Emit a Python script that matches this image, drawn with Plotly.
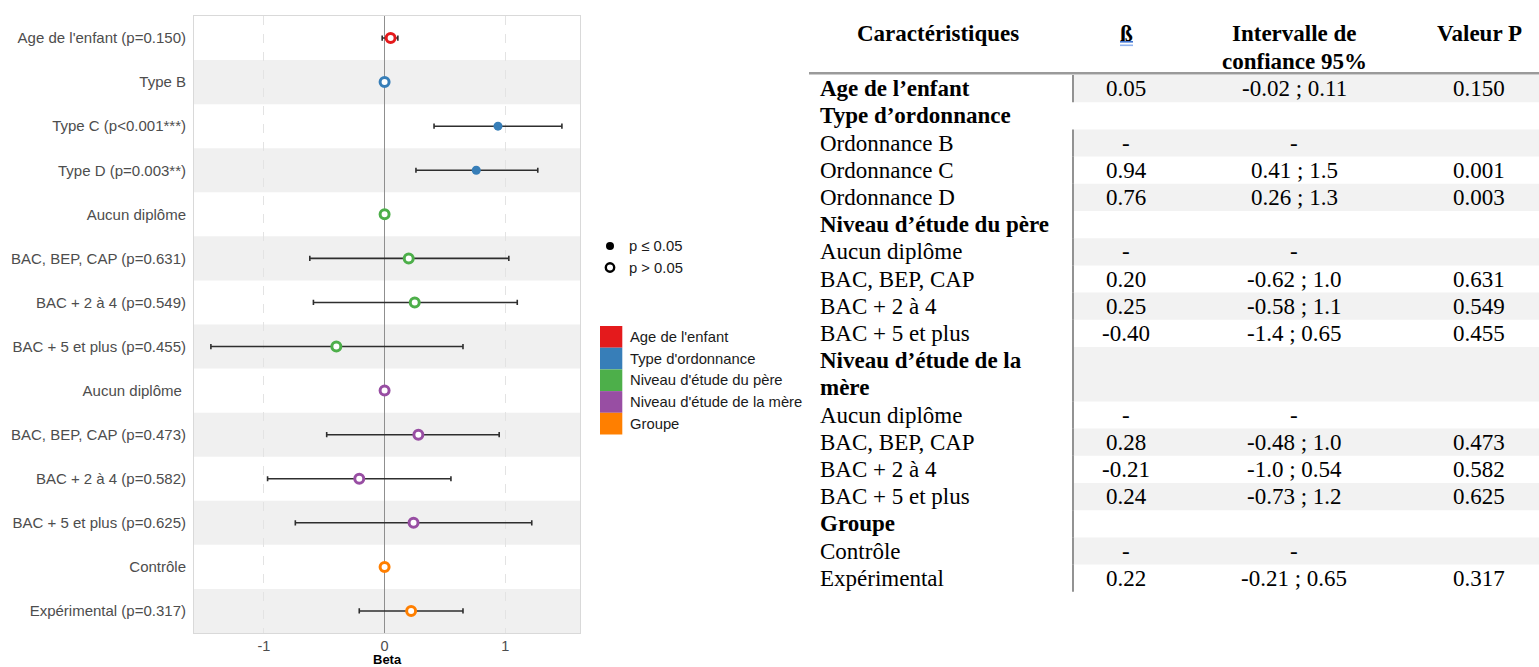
import plotly.graph_objects as go

# ---------------- data: forest plot ----------------
row_labels = ["Age de l'enfant (p=0.150)", "Type B", "Type C (p<0.001***)", "Type D (p=0.003**)",
              "Aucun diplôme", "BAC, BEP, CAP (p=0.631)", "BAC + 2 à 4 (p=0.549)", "BAC + 5 et plus (p=0.455)",
              "Aucun diplôme\u00a0", "BAC, BEP, CAP (p=0.473)", "BAC + 2 à 4 (p=0.582)", "BAC + 5 et plus (p=0.625)",
              "Contrôle", "Expérimental (p=0.317)"]
row_groups = ["Age de l'enfant", "Type d'ordonnance", "Type d'ordonnance", "Type d'ordonnance",
              "Niveau d'étude du père", "Niveau d'étude du père", "Niveau d'étude du père", "Niveau d'étude du père",
              "Niveau d'étude de la mère", "Niveau d'étude de la mère", "Niveau d'étude de la mère", "Niveau d'étude de la mère",
              "Groupe", "Groupe"]
beta = [0.05, 0.0, 0.94, 0.76, 0.0, 0.20, 0.25, -0.40, 0.0, 0.28, -0.21, 0.24, 0.0, 0.22]
ci_low = [-0.02, None, 0.41, 0.26, None, -0.62, -0.59, -1.44, None, -0.48, -0.97, -0.74, None, -0.21]
ci_high = [0.11, None, 1.47, 1.27, None, 1.03, 1.10, 0.65, None, 0.95, 0.55, 1.22, None, 0.65]
p_signif = [False, False, True, True, False, False, False, False, False, False, False, False, False, False]

group_names = ["Age de l'enfant", "Type d'ordonnance", "Niveau d'étude du père", "Niveau d'étude de la mère", "Groupe"]
group_colors = ["#E41A1C", "#377EB8", "#4DAF4A", "#984EA3", "#FF7F00"]
shape_legend = ["p ≤ 0.05", "p > 0.05"]
x_ticks = [-1, 0, 1]

# ---------------- data: table ----------------
tab_labels = ["Age de l’enfant", "Type d’ordonnance", "Ordonnance B", "Ordonnance C", "Ordonnance D",
              "Niveau d’étude du père", "Aucun diplôme", "BAC, BEP, CAP", "BAC + 2 à 4", "BAC + 5 et plus",
              "Niveau d’étude de la\nmère", "Aucun diplôme", "BAC, BEP, CAP", "BAC + 2 à 4", "BAC + 5 et plus",
              "Groupe", "Contrôle", "Expérimental"]
tab_bold = [True, True, False, False, False, True, False, False, False, False,
            True, False, False, False, False, True, False, False]
tab_beta = ["0.05", "", "-", "0.94", "0.76", "", "-", "0.20", "0.25", "-0.40",
            "", "-", "0.28", "-0.21", "0.24", "", "-", "0.22"]
tab_ci = ["-0.02 ; 0.11", "", "-", "0.41 ; 1.5", "0.26 ; 1.3", "", "-", "-0.62 ; 1.0", "-0.58 ; 1.1", "-1.4 ; 0.65",
          "", "-", "-0.48 ; 1.0", "-1.0 ; 0.54", "-0.73 ; 1.2", "", "-", "-0.21 ; 0.65"]
tab_p = ["0.150", "", "", "0.001", "0.003", "", "", "0.631", "0.549", "0.455",
         "", "", "0.473", "0.582", "0.625", "", "", "0.317"]
tab_vline = [True, False] + [True] * 16
tab_headers = ["Caractéristiques", "ß", "Intervalle de\nconfiance 95%", "Valeur P"]

# ---------------- layout constants ----------------
W, H = 1539, 667
SANS = "Liberation Sans, Arial, sans-serif"
SERIF = "Liberation Serif, Times New Roman, serif"
GREY_TXT = "#4d4d4d"


def fx(p):
    return p / W


def fy(p):
    return 1 - p / H


fig = go.Figure()

# ---------------- forest plot ----------------
n_rows = len(row_labels)
ypos = list(range(n_rows))
for g, col in zip(group_names, group_colors):
    idx = [i for i in ypos if row_groups[i] == g]
    xs = [beta[i] for i in idx]
    ys = [ypos[i] for i in idx]
    plus = [(ci_high[i] - beta[i]) if ci_high[i] is not None else None for i in idx]
    minus = [(beta[i] - ci_low[i]) if ci_low[i] is not None else None for i in idx]
    fills = [col if p_signif[i] else "white" for i in idx]
    lw = [0 if p_signif[i] else 3 for i in idx]
    fig.add_trace(go.Scatter(
        x=xs, y=ys, mode="markers",
        marker=dict(size=9, color=fills, opacity=1, line=dict(color=col, width=lw)),
        error_x=dict(type="data", symmetric=False, array=plus, arrayminus=minus,
                     color="#2e2e2e", thickness=1.6, width=2.6),
        showlegend=False, hoverinfo="skip", xaxis="x", yaxis="y"))

shapes = []
for i in ypos:
    if i % 2 == 1:
        shapes.append(dict(type="rect", xref="x domain", yref="y", x0=0, x1=1,
                           y0=i - 0.5, y1=i + 0.5, fillcolor="#f0f0f0", line=dict(width=0), layer="below"))

annotations = []
annotations.append(dict(text="<b>Beta</b>", xref="x domain", x=0.5, yref="paper", y=fy(659),
                        showarrow=False, xanchor="center", yanchor="middle",
                        font=dict(family=SANS, size=13, color="black")))

# ---------------- legends ----------------
for k, lab in enumerate(shape_legend):
    cy = 246 + k * 21.5
    if k == 0:
        shapes.append(dict(type="circle", xref="paper", yref="paper", xsizemode="pixel", ysizemode="pixel",
                           xanchor=fx(610), yanchor=fy(cy), x0=-4, x1=4, y0=-4, y1=4,
                           fillcolor="black", line=dict(width=0)))
    else:
        shapes.append(dict(type="circle", xref="paper", yref="paper", xsizemode="pixel", ysizemode="pixel",
                           xanchor=fx(610), yanchor=fy(cy), x0=-4.2, x1=4.2, y0=-4.2, y1=4.2,
                           fillcolor="white", line=dict(width=2.4, color="black")))
    annotations.append(dict(text=lab, xref="paper", yref="paper", x=fx(627), y=fy(cy),
                            xanchor="left", yanchor="middle", showarrow=False,
                            font=dict(family=SANS, size=14.8, color="#1a1a1a")))
box_h = 21.7
for k, (g, col) in enumerate(zip(group_names, group_colors)):
    top = 326 + k * box_h
    shapes.append(dict(type="rect", xref="paper", yref="paper", x0=fx(600), x1=fx(622.3),
                       y0=fy(top), y1=fy(top + box_h), fillcolor=col, line=dict(width=0)))
    annotations.append(dict(text=g, xref="paper", yref="paper", x=fx(628), y=fy(top + box_h / 2),
                            xanchor="left", yanchor="middle", showarrow=False,
                            font=dict(family=SANS, size=14.8, color="#1a1a1a")))

# ---------------- table ----------------
LINE = 27.2
Y0 = 75.0
tab_lines = [len(t.split("\n")) for t in tab_labels]
tops = []
acc = 0
for n in tab_lines:
    tops.append(acc)
    acc += n

fig.add_trace(go.Scatter(x=[None], y=[None], xaxis="x2", yaxis="y2", showlegend=False, hoverinfo="skip"))

col_beta, col_ci, col_p, col_lab, col_vline = 1126, 1294, 1479, 818, 1073
for r, lab in enumerate(tab_labels):
    top = tops[r]
    n = tab_lines[r]
    if r % 2 == 0:
        shapes.append(dict(type="rect", xref="x2", yref="y2", x0=col_vline + 1, x1=W,
                           y0=top, y1=top + n, fillcolor="#f2f2f2", line=dict(width=0), layer="below"))
    if tab_vline[r]:
        shapes.append(dict(type="line", xref="x2", yref="y2", x0=col_vline, x1=col_vline,
                           y0=top, y1=top + n, line=dict(color="#4a4a4a", width=1.2)))
    for j, part in enumerate(lab.split("\n")):
        txt = f"<b>{part}</b>" if tab_bold[r] else part
        annotations.append(dict(text=txt, xref="x2", yref="y2", x=col_lab, y=top + j + 0.5,
                                xanchor="left", yanchor="middle", showarrow=False,
                                font=dict(family=SERIF, size=23, color="black")))
    cy = top + n / 2
    for cx, val in ((col_beta, tab_beta[r]), (col_ci, tab_ci[r]), (col_p, tab_p[r])):
        if val:
            annotations.append(dict(text=val, xref="x2", yref="y2", x=cx, y=cy,
                                    xanchor="center", yanchor="middle", showarrow=False,
                                    font=dict(family=SERIF, size=23, color="black")))

head_x = [938, col_beta, col_ci, col_p]
for hx, h in zip(head_x, tab_headers):
    for j, part in enumerate(h.split("\n")):
        annotations.append(dict(text=f"<b>{part}</b>", xref="x2", yref="y2", x=hx,
                                y=(33 + j * 28 - Y0) / LINE, xanchor="center", yanchor="middle",
                                showarrow=False, font=dict(family=SERIF, size=23, color="black")))
shapes.append(dict(type="line", xref="x2", yref="y2", x0=809, x1=W, y0=-1.8 / LINE, y1=-1.8 / LINE,
                   line=dict(color="#9a9a9a", width=2.6)))
for yy, cc in ((41.8, "#3f73d0"), (45.3, "#8fb2ee")):
    shapes.append(dict(type="line", xref="x2", yref="y2", x0=1120, x1=1133,
                       y0=(yy - Y0) / LINE, y1=(yy - Y0) / LINE, line=dict(color=cc, width=1.6)))

fig.update_layout(
    width=W, height=H, margin=dict(l=0, r=0, t=0, b=0),
    paper_bgcolor="white", plot_bgcolor="white",
    showlegend=False, shapes=shapes, annotations=annotations,
    xaxis=dict(domain=[fx(194), fx(580)], range=[-1.58, 1.62], tickvals=x_ticks,
               ticktext=[str(t) for t in x_ticks], showgrid=True, gridcolor="#e3e3e3", griddash="dash",
               gridwidth=1, zeroline=True, zerolinecolor="#8f8f8f", zerolinewidth=1.3,
               showline=True, mirror=True, linecolor="#d9d9d9", linewidth=1, ticks="",
               tickfont=dict(family=SANS, size=14.5, color=GREY_TXT), anchor="y", fixedrange=True),
    yaxis=dict(domain=[fy(633), fy(16)], range=[n_rows - 0.5, -0.5], tickvals=ypos, ticktext=row_labels,
               showgrid=False, zeroline=False, showline=True, mirror=True, linecolor="#d9d9d9", ticks="",
               ticklabelstandoff=4,
               tickfont=dict(family=SANS, size=15, color=GREY_TXT), anchor="x", fixedrange=True),
    xaxis2=dict(domain=[fx(807), 1], range=[807, W], visible=False, anchor="y2", fixedrange=True),
    yaxis2=dict(domain=[0, 1], range=[(H - Y0) / LINE, -Y0 / LINE], visible=False, anchor="x2", fixedrange=True),
)

fig.write_html("out.html", config={"displayModeBar": False},
               post_script="document.body.style.margin='0';")
